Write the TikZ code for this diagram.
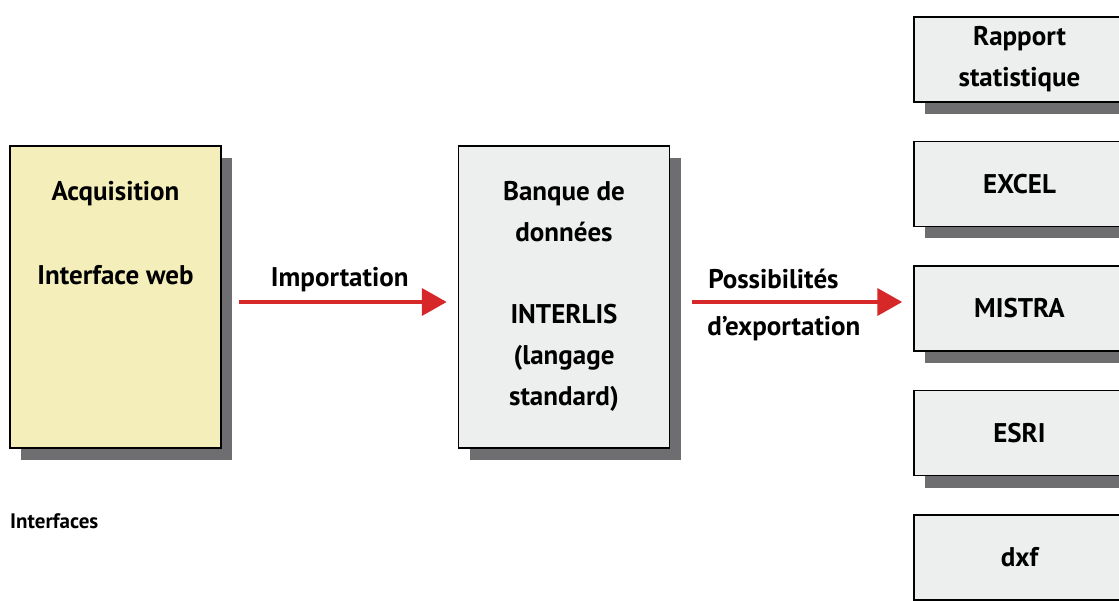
\documentclass[tikz,border=0pt]{standalone}
\usepackage{fontspec}
\setmainfont{PT Sans}
\usetikzlibrary{arrows.meta,shadows,positioning}

\definecolor{acqyellow}{RGB}{244,239,186}
\definecolor{boxgray}{RGB}{237,238,238}
\definecolor{shadowgray}{RGB}{110,110,112}
\definecolor{arrowred}{RGB}{214,40,40}

\begin{document}
\begin{tikzpicture}[x=1pt, y=-1pt,
            box/.style={rectangle, draw=black, line width=1.5pt, inner sep=0pt,
            minimum width=211pt, minimum height=302pt,
            drop shadow={shadow xshift=11pt, shadow yshift=-12pt, fill=shadowgray, opacity=1}},
            outbox/.style={box, fill=boxgray, minimum height=85pt, align=center,
            font=\bfseries\fontsize{27}{41}\selectfont},
            boxtext/.style={anchor=north, align=center, inner sep=0pt,
            font=\bfseries\fontsize{27}{41}\selectfont},
            flowlabel/.style={inner sep=0pt, font=\bfseries\fontsize{27}{30}\selectfont},
            flow/.style={draw=arrowred, line width=4pt, -{Triangle[length=25pt,width=27pt]}},
            node distance=38pt]
            \path[use as bounding box, clip] (0,0) rectangle (1119,601);

            \node (acq) [box, fill=acqyellow] at (115.5,297) {};
            \node (acqtext) [boxtext, below=36pt of acq.north] {Acquisition\\[43pt]Interface web};

            \node (bank) [box, fill=boxgray] at (564,297) {};
            \node (banktext) [boxtext, below=36pt of bank.north]
            {Banque de\\données\\[41pt]INTERLIS\\(langage\\standard)};

            \node (rapport) [outbox] at (1019.5,59.5) {Rapport\\statistique};
            \node (excel) [outbox, below=of rapport] {EXCEL};
            \node (mistra) [outbox, below=of excel] {MISTRA};
            \node (esri) [outbox, below=of mistra] {ESRI};
            \node (dxf) [outbox, below=of esri] {dxf};

            \draw [flow, shorten <=17pt, shorten >=11pt] ([yshift=-5pt]acq.east) -- ([yshift=-5pt]acq.east -| bank.west)
                node (import) [flowlabel, midway, above=8pt] {Importation};
            \draw [flow, shorten <=22pt, shorten >=11pt] ([yshift=-5pt]bank.east) -- ([yshift=-5pt]bank.east -| mistra.west)
                node (possib) [flowlabel, pos=0, anchor=south west, xshift=36pt, yshift=11pt] {Possibilités}
                node (dexport) [flowlabel, pos=0, anchor=north west, xshift=35pt, yshift=-12pt] {d’exportation};

            \node (interfaces) [anchor=west, inner sep=0pt, font=\bfseries\fontsize{21}{24}\selectfont] at (10,521) {Interfaces};
        \end{tikzpicture}
\end{document}
